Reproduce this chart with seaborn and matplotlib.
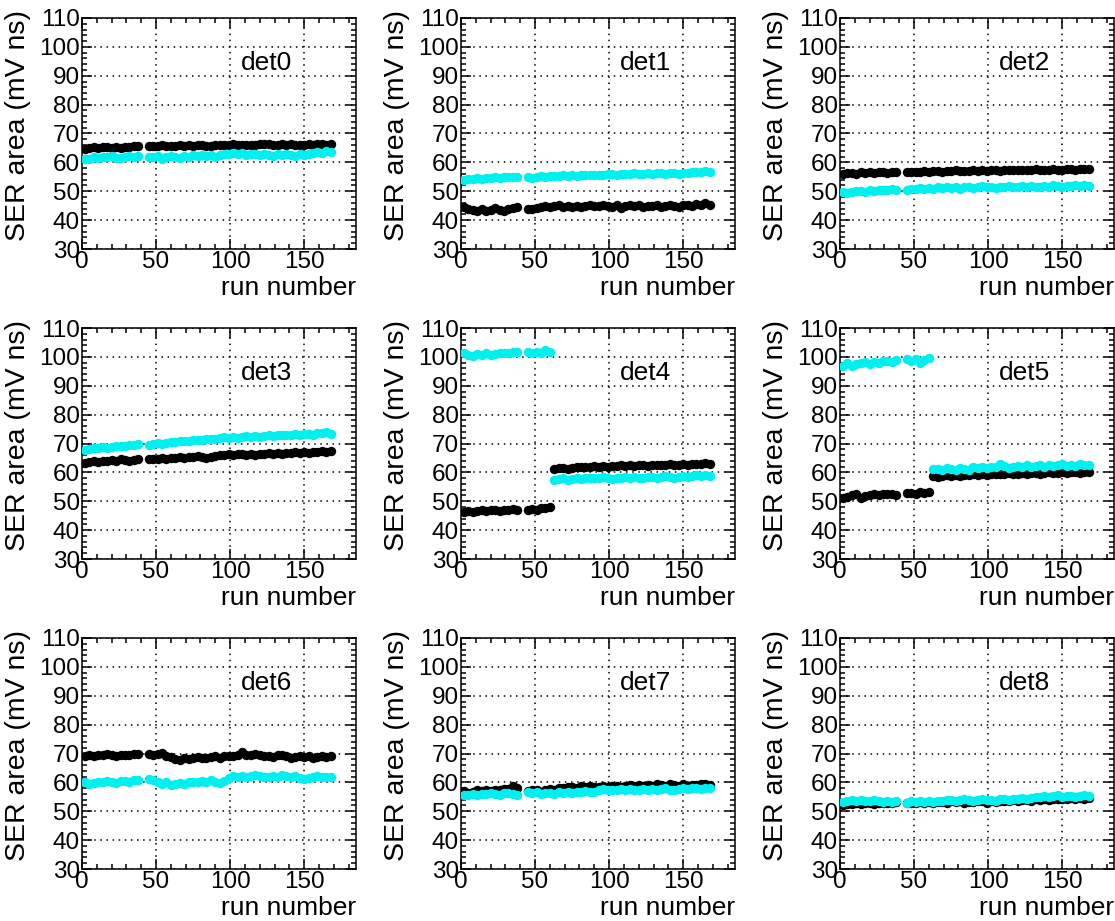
import matplotlib
matplotlib.use("Agg")
import matplotlib.pyplot as plt
from matplotlib.ticker import MultipleLocator
import seaborn as sns

# ---------------- data ----------------
runs = [2, 5, 8, 11, 14, 17, 20, 23, 26, 29, 32, 35, 38,
        45, 48, 51, 54, 57, 60,
        63, 66, 69, 72, 75, 78, 81, 84, 87, 90, 93, 96, 99, 102, 105, 108,
        111, 114, 117, 120, 123, 126, 129, 132, 135, 138, 141, 144, 147,
        150, 153, 156, 159, 162, 165, 168]

detectors = ["det0", "det1", "det2", "det3", "det4", "det5", "det6", "det7", "det8"]

det0_black = [64.8, 65.1, 65.3, 65.0, 65.4, 65.2, 65.0, 65.3, 65.1, 65.4, 65.2, 65.6, 65.8,
              65.6, 65.5, 65.7, 65.9, 65.6, 65.8,
              65.7, 65.9, 65.6, 66.0, 65.8, 66.1, 66.0, 65.8, 65.6, 65.9, 66.0, 66.1, 65.9, 66.2, 66.0, 66.1,
              66.0, 65.9, 66.1, 66.2, 66.3, 66.4, 66.1, 66.0, 66.2, 66.1, 66.3, 66.0, 65.9,
              66.1, 66.2, 66.0, 66.4, 66.3, 66.1, 66.2]
det0_cyan = [61.0, 61.3, 61.8, 61.5, 62.0, 61.7, 62.2, 61.6, 61.4, 62.0, 62.1, 61.8, 62.3,
             62.0, 61.8, 62.1, 61.2, 61.9, 62.3,
             62.0, 61.6, 62.2, 62.0, 62.4, 62.1, 62.5, 62.2, 62.6, 62.0, 62.7, 63.0, 62.8, 63.1, 62.9, 63.2,
             62.7, 63.0, 62.8, 62.5, 63.0, 62.6, 62.3, 62.8, 62.4, 63.0, 62.7, 62.2, 62.8,
             62.4, 62.9, 63.2, 63.5, 63.3, 63.8, 63.6]

det1_black = [44.5, 44.0, 43.6, 43.2, 43.8, 43.0, 43.5, 44.1, 43.4, 43.0, 43.9, 44.2, 44.5,
              44.0, 43.8, 44.3, 44.6, 44.9, 44.4,
              44.8, 45.1, 44.6, 44.9, 44.5, 45.0, 44.7, 44.9, 45.2, 45.0, 44.8, 45.3, 45.0, 44.6, 45.1, 44.3,
              45.0, 45.3, 44.9, 45.1, 44.7, 45.0, 44.8, 45.2, 44.6, 45.0, 45.3, 44.9, 44.5,
              45.1, 45.4, 44.8, 45.6, 45.2, 45.9, 45.3]
det1_cyan = [54.0, 54.2, 54.3, 54.5, 54.4, 54.6, 54.5, 54.8, 54.7, 54.9, 55.0, 54.8, 55.1,
             54.9, 54.7, 55.0, 55.2, 55.1, 55.3,
             55.2, 55.4, 55.5, 55.3, 55.6, 55.4, 55.7, 55.8, 55.5, 55.6, 55.8, 55.7, 55.9, 56.0, 55.8, 56.1,
             56.0, 55.9, 56.2, 56.0, 56.1, 56.3, 56.0, 56.2, 56.4, 56.1, 56.3, 56.2, 56.0,
             56.4, 56.3, 56.5, 56.8, 56.6, 56.9, 56.5]

det2_black = [56.0, 56.2, 56.4, 56.1, 56.5, 56.3, 56.6, 56.2, 56.5, 56.7, 56.4, 56.6, 56.8,
              56.6, 56.7, 56.5, 56.8, 56.9, 56.7,
              56.9, 57.0, 56.8, 57.1, 56.9, 57.2, 57.0, 57.1, 56.9, 57.2, 57.1, 57.3, 57.0, 57.2, 57.4, 57.1,
              57.3, 57.2, 57.4, 57.3, 57.5, 57.2, 57.4, 57.6, 57.3, 57.5, 57.4, 57.6, 57.3,
              57.5, 57.7, 57.6, 57.4, 57.8, 57.6, 57.7]
det2_cyan = [49.6, 49.3, 49.8, 50.0, 50.2, 49.9, 50.3, 50.1, 50.4, 50.6, 50.3, 50.7, 50.5,
             50.6, 50.9, 50.7, 51.0, 50.8, 51.2,
             50.9, 51.3, 51.0, 51.4, 51.2, 51.5, 50.9, 51.3, 51.6, 51.2, 51.4, 51.7, 51.3, 51.5, 51.2, 51.6,
             51.4, 51.8, 51.5, 51.3, 51.7, 51.5, 51.9, 51.6, 51.4, 51.8, 51.6, 52.0, 51.7,
             51.5, 51.9, 51.7, 52.1, 51.8, 52.0, 51.9]

det3_black = [63.2, 63.5, 63.8, 63.6, 64.0, 63.8, 64.3, 64.1, 64.5, 64.2, 64.0, 64.4, 64.6,
              64.5, 64.8, 64.6, 65.0, 64.8, 65.1,
              65.0, 65.3, 65.1, 65.4, 65.2, 65.5, 65.3, 65.0, 65.4, 65.7, 65.9, 66.1, 66.3, 66.0, 66.2, 66.4,
              66.1, 66.3, 66.0, 66.5, 66.2, 66.6, 66.3, 66.7, 66.5, 66.8, 66.6, 66.9, 66.7,
              67.0, 66.8, 67.1, 66.9, 67.3, 67.2, 67.4]
det3_cyan = [67.8, 68.1, 68.3, 68.5, 68.7, 68.6, 68.9, 69.1, 69.0, 69.3, 69.5, 69.4, 69.7,
             69.6, 69.9, 70.1, 70.0, 70.3, 70.5,
             70.4, 70.7, 70.9, 70.8, 71.1, 71.3, 71.2, 71.5, 71.7, 71.6, 71.9, 72.1, 72.0, 72.2, 72.0, 72.3,
             72.5, 72.3, 72.6, 72.4, 72.7, 72.9, 72.6, 72.8, 73.0, 72.8, 73.1, 73.3, 73.0,
             73.2, 73.4, 73.1, 73.5, 73.7, 73.9, 73.4]

det4_black = [46.4, 46.7, 46.3, 46.6, 46.9, 46.5, 46.8, 47.0, 46.7, 47.1, 46.9, 47.2, 47.0,
              47.1, 47.3, 47.0, 47.5, 47.6, 47.9,
              61.2, 61.4, 61.5, 61.3, 61.6, 61.8, 62.0, 61.7, 61.9, 62.1, 61.8, 62.2, 62.0, 62.3, 62.1, 62.4,
              62.2, 62.5, 62.3, 62.4, 62.6, 62.3, 62.5, 62.7, 62.4, 62.6, 62.8, 62.5, 62.7,
              62.9, 62.6, 62.8, 63.0, 62.9, 63.2, 63.0]
det4_cyan = [101.3, 100.8, 100.4, 100.9, 100.6, 101.2, 100.8, 101.1, 101.3, 101.5, 101.4, 101.7, 101.8,
             101.6, 101.2, 101.8, 101.5, 102.3, 101.6,
             57.3, 57.6, 57.9, 57.5, 57.8, 58.0, 57.7, 58.1, 57.9, 58.2, 58.0, 58.3, 58.1, 57.8, 58.2, 58.0,
             58.3, 58.1, 58.4, 58.2, 57.9, 58.3, 58.5, 58.2, 58.4, 58.6, 58.3, 57.9, 58.5,
             58.7, 58.4, 58.8, 59.0, 58.6, 59.1, 58.8]

det5_black = [51.0, 51.4, 52.0, 52.6, 51.2, 51.8, 52.2, 52.6, 52.3, 52.5, 52.4, 52.6, 52.3,
              52.7, 52.9, 52.5, 53.2, 53.0, 53.1,
              58.6, 58.3, 58.8, 59.0, 58.9, 59.1, 58.8, 59.2, 59.0, 59.3, 59.1, 59.4, 59.2, 59.5, 59.3, 59.6,
              59.4, 59.7, 59.5, 59.6, 59.8, 59.5, 59.7, 59.9, 59.6, 59.8, 60.0, 59.7, 59.9,
              60.1, 59.8, 60.0, 60.2, 59.7, 60.1, 60.0]
det5_cyan = [97.0, 97.8, 96.9, 97.5, 97.8, 98.1, 97.6, 98.3, 98.0, 98.4, 98.6, 98.3, 98.9,
             99.2, 98.5, 99.4, 98.0, 99.0, 99.7,
             61.0, 61.3, 60.8, 61.5, 61.1, 60.7, 61.6, 61.2, 60.9, 61.7, 61.4, 61.9, 61.6, 62.0, 61.7, 62.8,
             62.1, 61.6, 61.9, 62.2, 61.8, 62.6, 62.0, 62.3, 62.5, 62.0, 62.4, 62.1, 62.6,
             62.9, 62.3, 62.5, 62.2, 62.8, 62.4, 62.6]

det6_black = [69.0, 69.5, 69.3, 69.6, 69.4, 69.7, 69.5, 69.2, 69.4, 69.6, 69.5, 69.8, 70.0,
              69.7, 69.5, 69.8, 70.2, 69.3, 68.7,
              68.2, 67.9, 68.3, 68.0, 68.6, 68.9, 68.6, 68.3, 68.8, 69.0, 68.6, 69.1, 69.3, 69.0, 69.5, 70.4,
              69.6, 69.4, 69.8, 69.5, 69.1, 69.3, 68.9, 69.6, 69.4, 69.0, 68.6, 68.9, 69.2,
              68.8, 69.0, 68.3, 68.9, 69.1, 68.7, 69.2]
det6_cyan = [60.0, 59.6, 59.9, 60.2, 60.1, 60.5, 60.3, 59.8, 60.4, 60.6, 60.3, 60.7, 60.9,
             61.0, 60.7, 60.2, 59.3, 60.0, 59.0,
             59.4, 59.8, 59.5, 60.0, 60.3, 60.1, 60.5, 60.3, 60.7, 60.2, 59.8, 60.4, 61.5, 62.2, 62.0, 62.3,
             61.9, 62.2, 62.5, 62.1, 61.7, 62.0, 62.3, 62.0, 62.4, 62.2, 61.8, 62.3, 61.6,
             61.2, 61.5, 61.9, 62.2, 61.7, 61.9, 61.8]

det7_black = [57.0, 56.4, 56.8, 57.2, 56.9, 57.4, 57.1, 57.5, 57.3, 57.6, 57.8, 58.6, 57.9,
              57.0, 57.4, 57.2, 56.8, 57.3, 57.6,
              57.4, 58.2, 58.0, 58.5, 58.3, 58.1, 58.6, 58.4, 58.8, 58.5, 58.3, 58.7, 58.5, 58.9, 58.6, 58.4,
              58.8, 59.0, 58.7, 59.1, 58.8, 59.2, 58.9, 59.3, 59.0, 58.6, 59.4, 59.1, 58.7,
              59.5, 58.9, 59.2, 59.0, 59.4, 59.6, 59.2]
det7_cyan = [55.8, 55.6, 56.0, 55.7, 56.1, 55.9, 56.3, 56.0, 55.8, 56.2, 56.4, 56.1, 55.6,
             56.5, 56.2, 56.6, 55.9, 56.4, 56.3,
             56.0, 56.5, 56.3, 56.7, 56.4, 56.8, 56.6, 56.9, 56.5, 56.8, 57.2, 57.6, 57.4, 57.5, 57.3, 57.6,
             57.4, 57.7, 57.5, 57.3, 57.7, 57.5, 57.8, 57.4, 57.6, 57.9, 57.5, 57.3, 57.8,
             58.1, 57.7, 57.9, 58.0, 57.8, 58.1, 57.9]

det8_black = [52.3, 52.6, 52.4, 52.8, 52.5, 52.7, 52.9, 52.6, 52.8, 53.0, 52.7, 52.9, 53.1,
              52.8, 53.0, 52.7, 53.1, 52.9, 53.2,
              53.0, 53.3, 53.1, 52.8, 53.4, 53.2, 53.5, 53.0, 53.3, 53.1, 53.4, 53.6, 52.9, 53.5, 53.3, 53.7,
              53.4, 53.6, 53.9, 53.5, 53.8, 54.0, 53.7, 54.1, 53.8, 54.2, 54.0, 54.3, 54.1,
              54.4, 54.2, 54.5, 54.3, 54.6, 54.2, 54.5]
det8_cyan = [53.2, 53.6, 53.9, 53.5, 54.0, 53.7, 53.4, 53.8, 53.5, 53.2, 53.6, 53.3, 53.7,
             53.0, 53.4, 53.1, 53.5, 53.2, 53.6,
             53.3, 53.7, 53.4, 53.8, 54.0, 53.6, 53.9, 54.1, 53.8, 53.5, 53.9, 54.2, 53.8, 54.0, 53.7, 54.1,
             54.3, 54.0, 54.4, 54.2, 54.5, 54.3, 54.6, 54.8, 55.0, 55.2, 54.9, 55.3, 55.5,
             55.1, 55.4, 55.2, 55.0, 55.3, 55.5, 55.2]

black_series = [det0_black, det1_black, det2_black, det3_black, det4_black,
                det5_black, det6_black, det7_black, det8_black]
cyan_series = [det0_cyan, det1_cyan, det2_cyan, det3_cyan, det4_cyan,
               det5_cyan, det6_cyan, det7_cyan, det8_cyan]

x_label = "run number"
y_label = "SER area (mV ns)"

# ---------------- style ----------------
sns.set_theme(style="white")
plt.rcParams["font.family"] = ["Liberation Sans", "DejaVu Sans"]

W, H = 1115, 921
fig = plt.figure(figsize=(W / 100, H / 100), dpi=100)
fig.patch.set_facecolor("white")

col_left = [82, 461, 840]
row_top = [18, 328, 638]
ax_w, ax_h = 274, 231

for i, name in enumerate(detectors):
    r, c = divmod(i, 3)
    left = col_left[c] / W
    bottom = 1 - (row_top[r] + ax_h) / H
    ax = fig.add_axes([left, bottom, ax_w / W, ax_h / H])
    ax.set_facecolor("white")

    sns.scatterplot(x=runs, y=black_series[i], color="black", s=46,
                    linewidth=0, ax=ax, zorder=3, legend=False)
    sns.scatterplot(x=runs, y=cyan_series[i], color="#00f0f0", s=46,
                    linewidth=0, ax=ax, zorder=4, legend=False)

    ax.set_xlim(0, 185)
    ax.set_ylim(30, 110)
    ax.xaxis.set_major_locator(MultipleLocator(50))
    ax.xaxis.set_minor_locator(MultipleLocator(10))
    ax.yaxis.set_major_locator(MultipleLocator(10))
    ax.yaxis.set_minor_locator(MultipleLocator(2))

    ax.grid(True, which="major", color="black", linestyle=(0, (1, 3)), linewidth=1.1)
    ax.set_axisbelow(True)

    for sp in ax.spines.values():
        sp.set_visible(True)
        sp.set_color("black")
        sp.set_linewidth(1.1)

    ax.tick_params(which="both", direction="in", top=True, right=True,
                   bottom=True, left=True, color="black", width=1.1)
    ax.tick_params(which="major", length=7, labelsize=17.5, pad=1.5, labelcolor="black")
    ax.tick_params(which="minor", length=3.5)

    ax.set_xlabel(x_label, fontsize=19, loc="right", labelpad=2, color="black")
    ax.set_ylabel(y_label, fontsize=20.5, color="black")
    ax.yaxis.set_label_coords(-0.185, 0.535)

    ax.text(107, 94.4, name, fontsize=19, ha="left", va="center", color="black")

fig.savefig("out.png", dpi=100)
